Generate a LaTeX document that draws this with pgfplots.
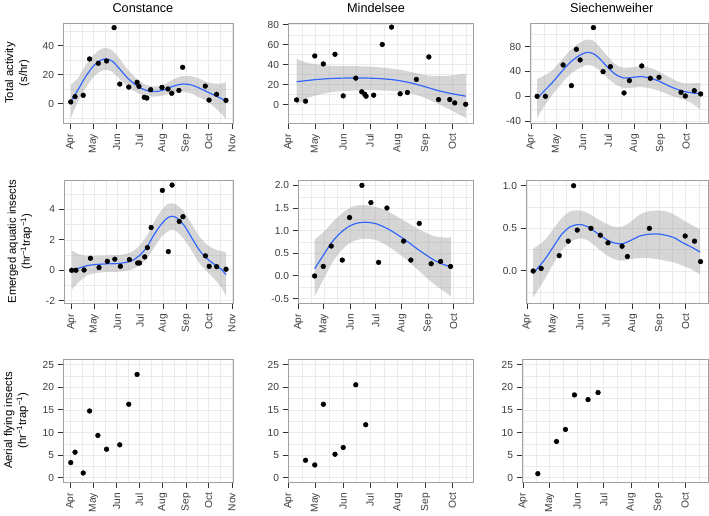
\documentclass[border=0pt]{standalone}
\usepackage{pgfplots}
\pgfplotsset{compat=1.18}
\usepackage{pgfplotstable}
\usepgfplotslibrary{fillbetween}
\usepackage{fontspec}
\setmainfont{Liberation Sans}
\definecolor{blueline}{HTML}{3366FF}
\definecolor{bordergray}{HTML}{A0A0A0}
\definecolor{tickgray}{HTML}{333333}
\definecolor{labelgray}{HTML}{3C3C3C}
\definecolor{gridgray}{HTML}{EBEBEB}
\definecolor{ribbon}{HTML}{999999}

% smoother tables: day, fit, lo, hi
\pgfplotstableread{
d fit lo hi
0 1.5 -10 13
10 10 2 18
20 19 11 27
30 26 18.5 33.5
40 30.2 22.5 37.8
47 31 23.5 38.5
55 29.5 22 37
65 24 17 31
75 18 12 24
85 13.5 8.5 18.5
95 10.3 6 14.5
105 8.6 5 12.2
115 8.5 5 12
125 9.8 6 13.6
135 12 7.5 16.5
145 13.4 8 18.8
152 13.6 8 19.2
160 13 7 19
170 11 4.5 17.5
180 8.5 2 15
190 6 -2 14
200 3.5 -7 14
206 1.8 -11 15
}\smCT
\pgfplotstableread{
d fit lo hi
9 22.9 0 45.8
20 24 6 42
30 25 9 40.5
45 26 12 39
60 26.5 13.5 38.5
75 26.6 14 38.5
90 26.5 14.5 38
105 25.8 14 37
120 24.5 13.5 35.5
135 22 11.5 33
150 18.5 7.5 30
165 14.5 1.5 28.5
180 11.3 -5 29
198 8.4 -13.4 31
}\smMT
\pgfplotstableread{
d fit lo hi
7 -2.7 -35 28
15 8 -17 33
25 22 2 42
35 38 19 57
45 53 34 72
55 64 44 84
65 70.5 50 91
73 69 49 90
80 62 43 81
90 47.5 30 65
100 35 19 51
110 29.5 13.5 46
120 30.5 14 47
130 31.8 15 48.5
140 29.5 13 46
150 25 9.5 40.5
160 18.5 4 33
170 12.5 -1 26
180 8.1 -5 21
190 5.5 -11 21
200 4.3 -21.5 21.5
}\smST
\pgfplotstableread{
d fit lo hi
0 0.04 -1.27 1.3
10 0.15 -0.75 1.05
20 0.3 -0.35 0.95
30 0.37 -0.2 0.95
45 0.42 -0.12 0.97
60 0.44 -0.1 1.0
70 0.5 -0.05 1.05
80 0.62 0.05 1.2
90 0.95 0.3 1.6
100 1.5 0.75 2.25
110 2.35 1.5 3.2
120 3.05 2.2 3.95
128 3.45 2.55 4.35
134 3.55 2.65 4.4
140 3.45 2.55 4.3
150 2.95 2.05 3.85
160 2.15 1.3 3.05
170 1.35 0.5 2.25
180 0.8 -0.05 1.7
190 0.4 -0.55 1.4
200 0.05 -1.15 1.25
206 -0.29 -1.71 1.19
}\smCE
\pgfplotstableread{
d fit lo hi
19 0.16 -0.45 0.8
30 0.48 -0.05 0.98
40 0.76 0.3 1.18
50 0.96 0.55 1.36
60 1.1 0.72 1.5
70 1.17 0.8 1.56
80 1.185 0.82 1.56
90 1.16 0.8 1.53
100 1.09 0.72 1.47
110 0.99 0.6 1.38
120 0.87 0.47 1.27
130 0.74 0.32 1.16
140 0.6 0.15 1.05
150 0.47 -0.02 0.96
160 0.35 -0.18 0.88
170 0.26 -0.32 0.85
180 0.2 -0.45 0.85
}\smME
\pgfplotstableread{
d fit lo hi
7 -0.03 -0.31 0.26
20 0.13 -0.1 0.36
30 0.28 0.08 0.49
40 0.43 0.24 0.62
50 0.52 0.34 0.7
60 0.545 0.38 0.71
70 0.52 0.36 0.68
80 0.45 0.28 0.62
90 0.38 0.2 0.56
100 0.33 0.14 0.52
110 0.32 0.12 0.52
120 0.36 0.14 0.58
130 0.41 0.15 0.66
140 0.43 0.15 0.7
150 0.435 0.14 0.71
160 0.42 0.12 0.7
170 0.39 0.1 0.66
180 0.33 0.06 0.6
190 0.28 0.02 0.54
200 0.22 -0.04 0.49
}\smSE

\pgfplotsset{
  panel/.style={
    scale only axis, anchor=south west,
    axis line style={draw=bordergray, line width=0.7pt},
    tick align=outside, tick pos=left,
    major tick length=5.5pt, minor tick length=0pt,
    major tick style={tickgray, line width=1pt},
    grid=both,
    major grid style={gridgray, line width=0.7pt},
    minor grid style={gridgray, line width=0.35pt},
    ticklabel style={font=\fontsize{10.2}{11}\selectfont, text=labelgray},
    xticklabel style={rotate=90, anchor=east},
    xticklabel shift=2pt,
    /pgf/number format/assume math mode=true,
    title style={font=\fontsize{12.7}{14}\selectfont, anchor=base, yshift=4.5pt},
    ylabel style={font=\fontsize{11.3}{14}\selectfont, align=center, anchor=center},
    minor xtick={15,45.5,76,106.5,137.5,168,198.5},
  },
  colone/.style={xmin=-10.3, xmax=215.3,
    xtick={0,30,61,91,122,153,183,214},
    xticklabels={Apr,May,Jun,Jul,Aug,Sep,Oct,Nov}},
  coltwo/.style={xmin=-0.7, xmax=206,
    xtick={0,30,61,91,122,153,183},
    xticklabels={Apr,May,Jun,Jul,Aug,Sep,Oct}},
  colthree/.style={xmin=-1.3, xmax=209,
    xtick={0,30,61,91,122,153,183},
    xticklabels={Apr,May,Jun,Jul,Aug,Sep,Oct}},
  pts/.style={only marks, mark=*, mark size=2.4pt, mark options={draw=none, fill=black}},
}

\newcommand{\smoother}[1]{%
  \addplot[name path=up, draw=none, smooth, forget plot] table[x=d, y=hi] {#1};
  \addplot[name path=dn, draw=none, smooth, forget plot] table[x=d, y=lo] {#1};
  \addplot[fill=ribbon, fill opacity=0.4, draw=none] fill between[of=up and dn];
  \addplot[blueline, line width=1.2pt, smooth] table[x=d, y=fit] {#1};
}

\begin{document}
\begin{tikzpicture}
\path (0,0) rectangle (709pt,508pt);

% ---------- Row 1: Total activity ----------
\begin{axis}[panel, colone, at={(63pt,391pt)}, width=170pt, height=100pt,
  ymin=-13.4, ymax=55.9, ytick={0,20,40}, minor ytick={-10,10,30,50},
  title={Constance}, title style={at={(axis description cs:0.47,1)}},
  ylabel={Total activity\\(s/hr)}, ylabel style={at={(axis description cs:-0.27,0.5)}}]
\addplot[pts] coordinates {(0,1.2) (5.7,4.9) (16.5,5.8) (25,31) (36.5,28) (47.5,29.6) (57.5,52.7) (65,13.6) (77,11.5) (88,14.8) (90.5,12) (97.5,4.4) (101,3.9) (106,9.7) (121,11.3) (129,10.2) (134,7.2) (143.5,9.2) (148.5,25.2) (178.5,12.2) (183.5,2.5) (193.5,6.5) (206,2.3)};
\smoother{\smCT}
\end{axis}

\begin{axis}[panel, coltwo, at={(288pt,391pt)}, width=185pt, height=100pt,
  ymin=-18.5, ymax=81.7, ytick={0,20,40,60,80}, minor ytick={-10,10,30,50,70},
  title={Mindelsee}, title style={at={(axis description cs:0.476,1)}}]
\addplot[pts] coordinates {(8.9,4.7) (18.9,3.4) (29.2,48.7) (38.8,40.7) (51.8,50.4) (61,8.7) (75,26.5) (81.7,12.8) (85,10.4) (86.5,8.4) (95,9.4) (104.6,60.2) (115,77.6) (124.6,10.8) (132.7,12.1) (142.7,25.2) (156.7,47.7) (167.5,5) (180,5) (185.6,1.7) (197.8,0.3)};
\smoother{\smMT}
\end{axis}

\begin{axis}[panel, colthree, at={(530pt,391pt)}, width=178pt, height=100pt,
  ymin=-43, ymax=118, ytick={-40,0,40,80}, minor ytick={-20,20,60,100},
  title={Siechenweiher}, title style={at={(axis description cs:0.459,1)}}]
\addplot[pts] coordinates {(7.1,0) (16.9,0) (37.8,50.5) (47.6,17.2) (53.5,75.7) (57.9,58.5) (73.6,110.6) (85,39.7) (93.7,47.8) (109.8,5.4) (116.1,25.2) (130.7,48.9) (140.9,29) (151.1,30.6) (177.1,6.4) (182.2,0.5) (192.8,9.1) (200.3,3.8)};
\smoother{\smST}
\end{axis}

% ---------- Row 2: Emerged aquatic insects ----------
\begin{axis}[panel, colone, at={(64pt,211pt)}, width=169pt, height=123pt,
  ymin=-2.15, ymax=5.93, ytick={-2,0,2,4}, minor ytick={-1,1,3,5},
  ylabel={Emerged aquatic insects\\(hr\textsuperscript{−1}trap\textsuperscript{−1})},
  ylabel style={at={(axis description cs:-0.26,0.5)}}]
\addplot[pts] coordinates {(0,0) (5.7,0) (16.5,0.02) (25,0.79) (36.5,0.18) (47.5,0.59) (57.5,0.73) (65,0.26) (77,0.70) (88,0.48) (90.5,0.48) (97.5,0.88) (101,1.49) (106,2.81) (121,5.25) (129,1.23) (134,5.6) (143.5,3.21) (148.5,3.52) (178.5,0.95) (183.5,0.26) (193.5,0.24) (206,0.07)};
\smoother{\smCE}
\end{axis}

\begin{axis}[panel, coltwo, at={(298pt,211pt)}, width=175pt, height=123pt,
  ymin=-0.598, ymax=2.118, ytick={-0.5,0,0.5,1,1.5,2},
  yticklabels={-0.5,0.0,0.5,1.0,1.5,2.0},
  minor ytick={-0.25,0.25,0.75,1.25,1.75}]
\addplot[pts] coordinates {(18.9,0) (29.1,0.21) (38.6,0.66) (51.6,0.35) (60.2,1.29) (74.8,2.0) (85.4,1.62) (94.5,0.30) (104.3,1.50) (124,0.77) (132.6,0.35) (142.5,1.16) (156.6,0.27) (167.7,0.32) (179.5,0.21)};
\smoother{\smME}
\end{axis}

\begin{axis}[panel, colthree, at={(526pt,211pt)}, width=182pt, height=123pt,
  ymin=-0.376, ymax=1.067, ytick={0,0.5,1}, yticklabels={0.0,0.5,1.0},
  minor ytick={-0.25,0.25,0.75}]
\addplot[pts] coordinates {(7,0) (16.2,0.03) (37.1,0.18) (47.5,0.35) (53.7,1.0) (57.9,0.48) (73.7,0.50) (84.6,0.42) (93.4,0.33) (109.7,0.29) (115.8,0.17) (141.3,0.50) (182.6,0.41) (193.4,0.35) (200.4,0.11)};
\smoother{\smSE}
\end{axis}

% ---------- Row 3: Aerial flying insects ----------
\begin{axis}[panel, colone, at={(63pt,32pt)}, width=170pt, height=123pt,
  ymin=-0.96, ymax=26.26, ytick={0,5,10,15,20,25}, minor ytick={2.5,7.5,12.5,17.5,22.5},
  ylabel={Aerial flying insects\\(hr\textsuperscript{−1}trap\textsuperscript{−1})},
  ylabel style={at={(axis description cs:-0.276,0.5)}}]
\addplot[pts] coordinates {(0,3.34) (5.7,5.64) (16.5,1.04) (25,14.76) (36,9.35) (47.5,6.31) (65,7.27) (77,16.25) (88,22.85)};
\end{axis}

\begin{axis}[panel, coltwo, at={(288pt,32pt)}, width=185pt, height=123pt,
  ymin=-0.96, ymax=26.26, ytick={0,5,10,15,20,25}, minor ytick={2.5,7.5,12.5,17.5,22.5}]
\addplot[pts] coordinates {(18.9,3.86) (29.2,2.82) (38.8,16.25) (51.8,5.19) (61,6.68) (75,20.55) (86.1,11.72)};
\end{axis}

\begin{axis}[panel, colthree, at={(522pt,32pt)}, width=186pt, height=123pt,
  ymin=-0.96, ymax=26.26, ytick={0,5,10,15,20,25}, minor ytick={2.5,7.5,12.5,17.5,22.5}]
\addplot[pts] coordinates {(16.6,0.89) (37.7,8.01) (47.8,10.68) (58,18.32) (73.4,17.28) (84.7,18.84)};
\end{axis}
\end{tikzpicture}
\end{document}
